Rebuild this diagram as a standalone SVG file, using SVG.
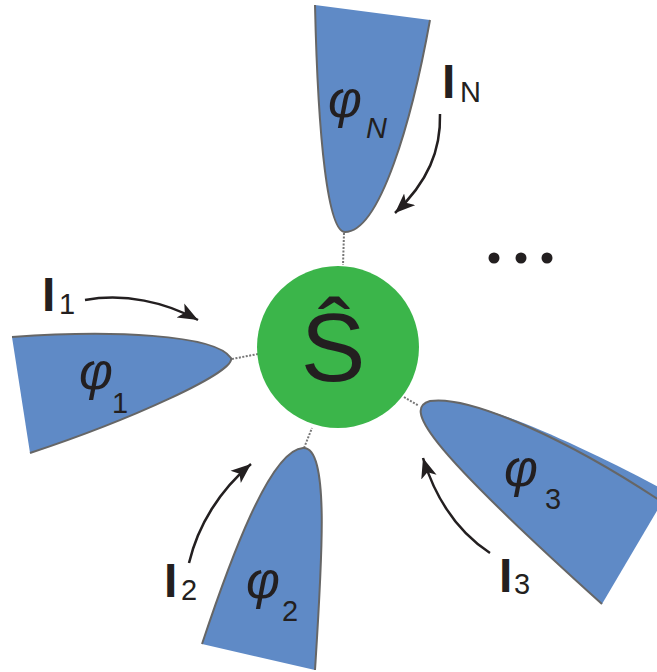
<svg xmlns="http://www.w3.org/2000/svg" width="657" height="672" viewBox="0 0 657 672">
<style>
.lobe{fill:#5f8ac6;stroke:none}
.edge{fill:none;stroke:#666;stroke-width:2}
.dot{fill:none;stroke:#777;stroke-width:2;stroke-dasharray:2 1.5}
.arr{fill:none;stroke:#231f20;stroke-width:2.5;marker-end:url(#ah)}
.phi{font-family:"Liberation Sans",Arial,sans-serif;font-style:italic;fill:#231f20;font-size:52px}
.sub{font-family:"Liberation Sans",Arial,sans-serif;fill:#231f20;font-size:29px}
.I{font-family:"Liberation Sans",Arial,sans-serif;font-weight:bold;fill:#231f20;font-size:48px}
</style>
<defs>
<marker id="ah" markerWidth="22" markerHeight="18" refX="20" refY="9" orient="auto" markerUnits="userSpaceOnUse">
<path d="M0,1 L20,9 L0,17 L5,9 Z" fill="#231f20"/>
</marker>
</defs>
<rect width="657" height="672" fill="#fff"/>
<g id="connectors">
<line class="dot" x1="344" y1="233" x2="343" y2="265"/>
<line class="dot" x1="232" y1="359" x2="258" y2="354"/>
<line class="dot" x1="304" y1="448" x2="312" y2="428"/>
<line class="dot" x1="404" y1="397" x2="419" y2="406"/>
<path class="arr" d="M440,114 C441,150 428,182 395,213"/>
<path class="arr" d="M85,300 C125,293 165,302 198,320"/>
<path class="arr" d="M189,563 C198,525 220,490 251,464"/>
<path class="arr" d="M490,553 C458,532 436,500 423,458"/>
</g>
<g id="lobeN">
<path class="lobe" d="M315,5 L430,20 C412,120 380,232 345,232 C328,232 318,140 315,5 Z"/>
<path class="edge" d="M430,20 C412,120 380,232 345,232 C328,232 318,140 315,5"/>
<text class="phi" x="328" y="117">φ</text>
<text class="sub" x="366" y="138" font-style="italic">N</text>
</g>
<g id="lobe1">
<path class="lobe" d="M12,337 C110,330 215,334 231,358 C236,372 130,420 30,453 Z"/>
<path class="edge" d="M12,337 C110,330 215,334 231,358 C236,372 130,420 30,453"/>
<text class="phi" x="79" y="389">φ</text>
<text class="sub" x="112" y="413">1</text>
</g>
<g id="lobe2">
<path class="lobe" d="M202,644 C230,560 270,450 303,448 C330,446 322,560 315,670 Z"/>
<path class="edge" d="M202,644 C230,560 270,450 303,448 C330,446 322,560 315,670"/>
<text class="phi" x="246" y="598">φ</text>
<text class="sub" x="282" y="621">2</text>
</g>
<g id="lobe3">
<path class="lobe" d="M602,604 L668,492 C570,440 470,395 430,401 C405,408 420,440 602,604 Z"/>
<path class="edge" d="M668,506 C570,440 470,395 430,401 C405,408 420,440 602,604"/>
<text class="phi" x="504" y="486">φ</text>
<text class="sub" x="545" y="509">3</text>
</g>
<g id="S">
<circle cx="338" cy="347" r="81" fill="#3bb54a"/>
<text x="333" y="381" font-family="'Liberation Sans',Arial,sans-serif" font-size="97" text-anchor="middle" fill="#231f20">Ŝ</text>
</g>
<g id="labels">
<text class="I" x="442" y="98">I</text><text class="sub" x="460" y="102">N</text>
<text class="I" x="42" y="311">I</text><text class="sub" x="59" y="314">1</text>
<text class="I" x="164" y="597">I</text><text class="sub" x="181" y="600">2</text>
<text class="I" x="499" y="592">I</text><text class="sub" x="514" y="594">3</text>
</g>
<g id="ellipsis" fill="#231f20">
<circle cx="494" cy="258" r="5.5"/>
<circle cx="521" cy="258" r="5.5"/>
<circle cx="547" cy="258" r="5.5"/>
</g>
</svg>
